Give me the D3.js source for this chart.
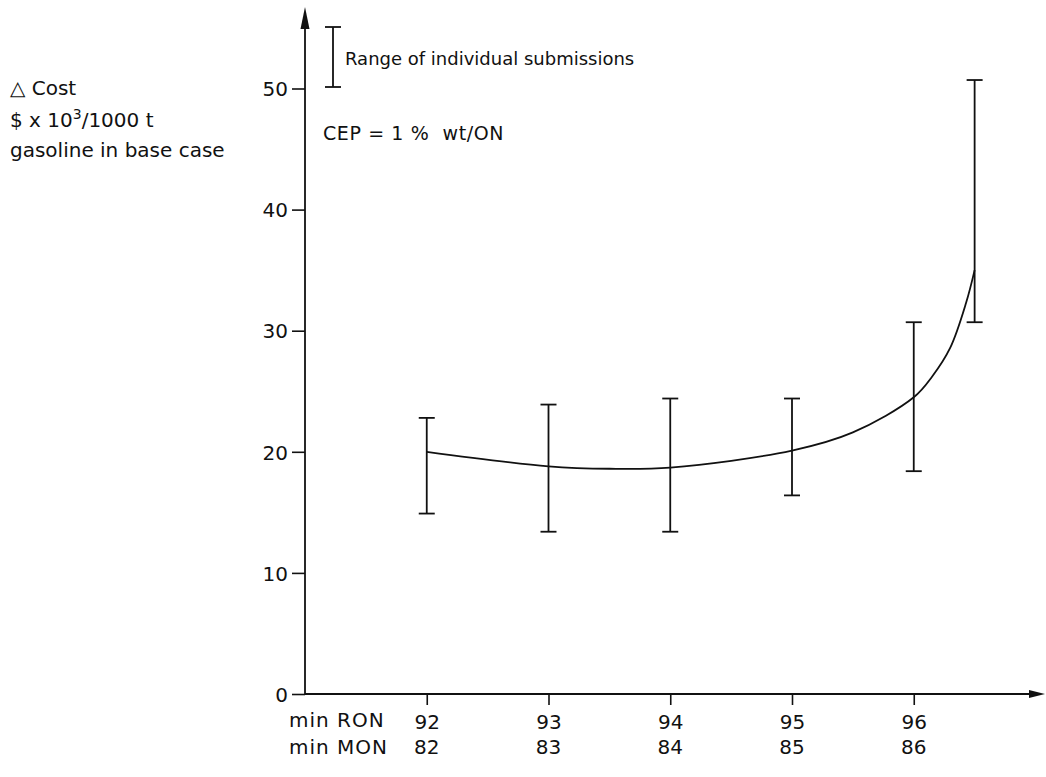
<!DOCTYPE html>
<html>
<head>
<meta charset="utf-8">
<script src="https://cdnjs.cloudflare.com/ajax/libs/d3/7.8.5/d3.min.js"></script>
<style>
  body { margin: 0; background: #fff; }
  svg text { font-family: "DejaVu Sans", sans-serif; fill: #111; }
</style>
</head>
<body>
<div id="chart"></div>
<script>
// values
var ronLabels = [92, 93, 94, 95, 96];
var monLabels = [82, 83, 84, 85, 86];
var barX    = [92, 93, 94, 95, 96, 96.5];
var barLow  = [14.9, 13.4, 13.4, 16.4, 18.4, 30.7];
var barHigh = [22.8, 23.9, 24.4, 24.4, 30.7, 50.7];
var curveX  = [92, 93, 93.5, 94, 95, 95.5, 96, 96.15, 96.3, 96.43, 96.5];
var curveY  = [20, 18.8, 18.6, 18.7, 20.1, 21.6, 24.5, 26.2, 28.6, 32.3, 35];
var yTicks  = [0, 10, 20, 30, 40, 50];

var w = 1046;
var h = 777;

var svg = d3.select('#chart').append('svg')
  .attr('width', w)
  .attr('height', h);

var x = d3.scaleLinear().domain([91, 97]).range([305, 1035.5]);
var y = d3.scaleLinear().domain([0, 50]).range([694, 88.5]);

var ink = '#111';

// y axis
var yAxis = d3.axisLeft(y).tickValues(yTicks).tickSize(13).tickPadding(4).tickFormat(d3.format('d'));
var gy = svg.append('g').attr('transform', 'translate(' + x(91) + ',0)').call(yAxis);
gy.select('.domain').remove();
gy.selectAll('line').attr('stroke', ink).attr('stroke-width', 1.6);
gy.selectAll('text').style('font-size', '20px').attr('dy', '0.36em');

// x axis
var xAxis = d3.axisBottom(x).tickValues(ronLabels).tickSize(11).tickPadding(10).tickFormat(d3.format('d'));
var gx = svg.append('g').attr('transform', 'translate(0,' + y(0) + ')').call(xAxis);
gx.select('.domain').remove();
gx.selectAll('line').attr('stroke', ink).attr('stroke-width', 1.6);
gx.selectAll('text').style('font-size', '20px');

// second row of x labels
svg.selectAll('.mon').data(monLabels).enter().append('text')
  .attr('class', 'mon')
  .attr('x', function (d, i) { return x(ronLabels[i]); })
  .attr('y', 754)
  .attr('text-anchor', 'middle')
  .style('font-size', '20px')
  .text(function (d) { return d; });

svg.append('text').attr('x', 289).attr('y', 727).style('font-size', '20px')
  .style('letter-spacing', '1px').text('min RON');
svg.append('text').attr('x', 289).attr('y', 754).style('font-size', '20px')
  .style('letter-spacing', '1px').text('min MON');

// axis lines with arrows
svg.append('line')
  .attr('x1', x(91)).attr('y1', y(0)).attr('x2', x(91)).attr('y2', 24)
  .attr('stroke', ink).attr('stroke-width', 1.8);
svg.append('path')
  .attr('d', 'M' + x(91) + ',7 L' + (x(91) - 4.5) + ',29 L' + (x(91) + 4.5) + ',29 Z')
  .attr('fill', ink);

svg.append('line')
  .attr('x1', x(91)).attr('y1', y(0)).attr('x2', 1030).attr('y2', y(0))
  .attr('stroke', ink).attr('stroke-width', 1.8);
svg.append('path')
  .attr('d', 'M1045,' + y(0) + ' L1029,' + (y(0) - 4) + ' L1029,' + (y(0) + 4) + ' Z')
  .attr('fill', ink);

// error bars
var capW = 8;
var bars = svg.append('g').attr('stroke', ink).attr('stroke-width', 1.8).attr('fill', 'none');
barX.forEach(function (d, i) {
  bars.append('line').attr('x1', x(d)).attr('x2', x(d)).attr('y1', y(barLow[i])).attr('y2', y(barHigh[i]));
  bars.append('line').attr('x1', x(d) - capW).attr('x2', x(d) + capW).attr('y1', y(barLow[i])).attr('y2', y(barLow[i]));
  bars.append('line').attr('x1', x(d) - capW).attr('x2', x(d) + capW).attr('y1', y(barHigh[i])).attr('y2', y(barHigh[i]));
});

// cost curve
var line = d3.line()
  .x(function (d, i) { return x(curveX[i]); })
  .y(function (d) { return y(d); })
  .curve(d3.curveCatmullRom.alpha(0.5));

svg.append('path')
  .datum(curveY)
  .attr('d', line)
  .attr('fill', 'none')
  .attr('stroke', ink)
  .attr('stroke-width', 1.8);

// legend
var lg = svg.append('g').attr('stroke', ink).attr('stroke-width', 1.8);
lg.append('line').attr('x1', 333).attr('x2', 333).attr('y1', 27).attr('y2', 87);
lg.append('line').attr('x1', 325).attr('x2', 341).attr('y1', 27).attr('y2', 27);
lg.append('line').attr('x1', 325).attr('x2', 341).attr('y1', 87).attr('y2', 87);
svg.append('text').attr('x', 345).attr('y', 65).style('font-size', '18px')
  .text('Range of individual submissions');

svg.append('text').attr('x', 323).attr('y', 140).style('font-size', '19px')
  .style('white-space', 'pre').style('letter-spacing', '0.6px')
  .text('CEP = 1 %  wt/ON');

// y label
svg.append('text').attr('x', 10).attr('y', 95).style('font-size', '20px').text('\u25B3 Cost');
var t2 = svg.append('text').attr('x', 10).attr('y', 127).style('font-size', '20px');
t2.append('tspan').text('$ x 10');
t2.append('tspan').attr('dy', -8).style('font-size', '14px').text('3');
t2.append('tspan').attr('dy', 8).text('/1000 t');
svg.append('text').attr('x', 10).attr('y', 157).style('font-size', '20px').text('gasoline in base case');
</script>
</body>
</html>
